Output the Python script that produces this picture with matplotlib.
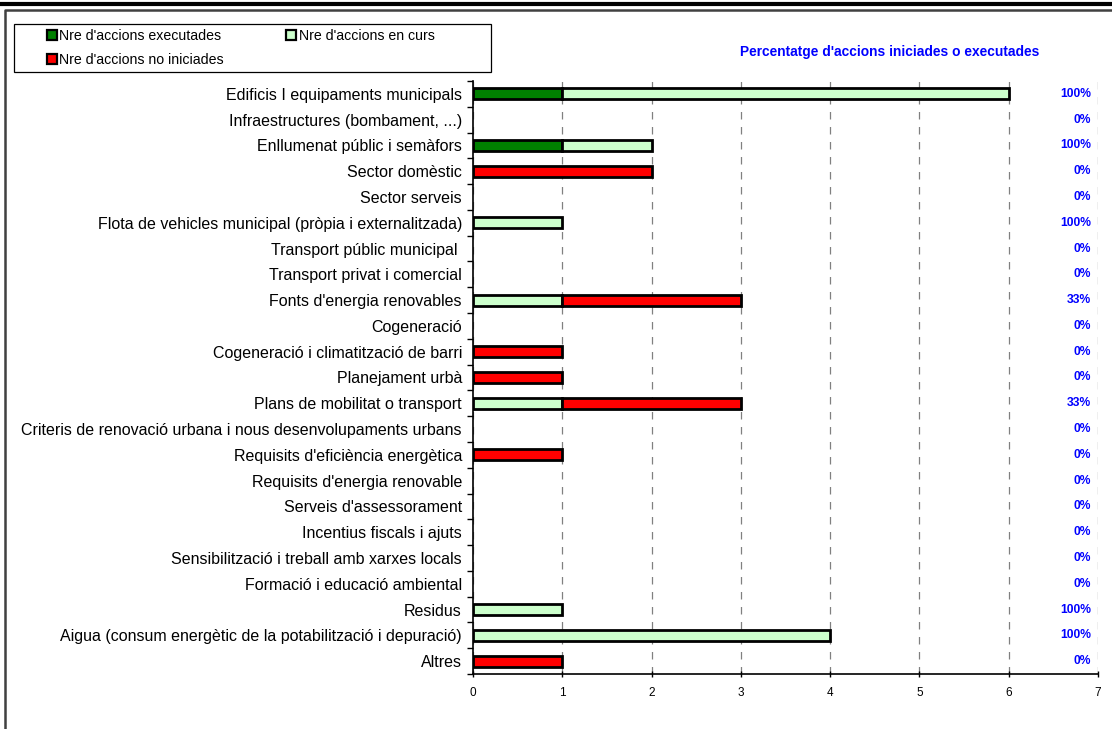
import matplotlib
matplotlib.use("Agg")
import matplotlib.pyplot as plt
from matplotlib.patches import Patch, Rectangle
from matplotlib.lines import Line2D
import numpy as np

plt.rcParams['font.family'] = ['Liberation Sans', 'DejaVu Sans']

categories = [
    "Edificis I equipaments municipals",
    "Infraestructures (bombament, ...)",
    "Enllumenat públic i semàfors",
    "Sector domèstic",
    "Sector serveis",
    "Flota de vehicles municipal (pròpia i externalitzada)",
    "Transport públic municipal ",
    "Transport privat i comercial",
    "Fonts d'energia renovables",
    "Cogeneració",
    "Cogeneració i climatització de barri",
    "Planejament urbà",
    "Plans de mobilitat o transport",
    "Criteris de renovació urbana i nous desenvolupaments urbans",
    "Requisits d'eficiència energètica",
    "Requisits d'energia renovable",
    "Serveis d'assessorament",
    "Incentius fiscals i ajuts",
    "Sensibilització i treball amb xarxes locals",
    "Formació i educació ambiental",
    "Residus",
    "Aigua (consum energètic de la potabilització i depuració)",
    "Altres",
]
executades = [1, 0, 1, 0, 0, 0, 0, 0, 0, 0, 0, 0, 0, 0, 0, 0, 0, 0, 0, 0, 0, 0, 0]
en_curs    = [5, 0, 1, 0, 0, 1, 0, 0, 1, 0, 0, 0, 1, 0, 0, 0, 0, 0, 0, 0, 1, 4, 0]
no_inic    = [0, 0, 0, 2, 0, 0, 0, 0, 2, 0, 1, 1, 2, 0, 1, 0, 0, 0, 0, 0, 0, 0, 1]
percentatges = ["100%", "0%", "100%", "0%", "0%", "100%", "0%", "0%", "33%", "0%", "0%", "0%",
                "33%", "0%", "0%", "0%", "0%", "0%", "0%", "0%", "100%", "100%", "0%"]
series_labels = ["Nre d'accions executades", "Nre d'accions en curs", "Nre d'accions no iniciades"]
title_text = "Percentatge d'accions iniciades o executades"
xticks = [0, 1, 2, 3, 4, 5, 6, 7]

colors = ["#008000", "#CCFFCC", "#FF0000"]

W, H = 1112, 729
fig = plt.figure(figsize=(W / 100, H / 100), dpi=100)
ax = fig.add_axes([473 / W, 1 - 674 / H, (1098 - 473) / W, (674 - 81) / H])

y = np.arange(len(categories))
left = np.zeros(len(categories))
for vals, col in zip([executades, en_curs, no_inic], colors):
    vals = np.array(vals, dtype=float)
    lw = [2.0 if v > 0 else 0 for v in vals]
    ax.barh(y, vals, left=left, height=0.42, color=col, edgecolor="black",
            linewidth=lw, zorder=3)
    left += vals

ax.set_xlim(0, 7)
ax.set_ylim(len(categories) - 0.5, -0.5)
ax.set_xticks(xticks)
ax.set_xticklabels([str(t) for t in xticks], fontsize=8.5)
ax.set_yticks(y)
ax.set_yticklabels(categories, fontsize=11.5)
ax.set_yticks(np.arange(len(categories) + 1) - 0.5, minor=True)
ax.tick_params(axis="y", which="major", length=0, pad=8)
ax.tick_params(axis="y", which="minor", length=4, width=1, direction="out")
ax.tick_params(axis="x", which="major", length=4, width=1, direction="inout", pad=7)

for s in ["top", "right"]:
    ax.spines[s].set_visible(False)
for s in ["left", "bottom"]:
    ax.spines[s].set_linewidth(1.2)

ax.grid(axis="x", color="#808080", linestyle=(0, (6, 6)), linewidth=0.9, zorder=0)
ax.set_axisbelow(True)

for yi, p in zip(y, percentatges):
    ax.text(6.92, yi, p, ha="right", va="center", fontsize=8.7, fontweight="bold",
            color="#0000FF", zorder=4)

fig.text(890 / W, 1 - 52 / H, title_text, ha="center", va="center",
         fontsize=9.9, fontweight="bold", color="#0000FF")

# outer frame
fig.add_artist(Line2D([0, 1], [1 - 3.5 / H, 1 - 3.5 / H], color="black", linewidth=3,
                      transform=fig.transFigure))
fig.add_artist(Line2D([5 / W, 5 / W, 1], [0, 1 - 10 / H, 1 - 10 / H], color="#404040",
                      linewidth=1.8, transform=fig.transFigure))

# legend frame
fig.add_artist(Rectangle((14 / W, 1 - 72 / H), (491 - 14) / W, 48 / H,
                         transform=fig.transFigure, facecolor="white",
                         edgecolor="black", linewidth=0.9, zorder=1))

handles = [Patch(facecolor=colors[0], edgecolor="black", linewidth=1.6),
           Patch(facecolor=colors[2], edgecolor="black", linewidth=1.6),
           Patch(facecolor=colors[1], edgecolor="black", linewidth=1.6)]
labels = [series_labels[0], series_labels[2], series_labels[1]]
leg = fig.legend(handles, labels, loc="center left",
                 bbox_to_anchor=(47 / W, 1 - 48 / H), ncol=2, fontsize=10.2,
                 frameon=False,
                 handlelength=0.72, handleheight=0.72, handletextpad=0.15,
                 columnspacing=4.4, borderpad=0, labelspacing=0.72,
                 borderaxespad=0)
leg.set_zorder(2)

fig.savefig("out.png", dpi=100)
